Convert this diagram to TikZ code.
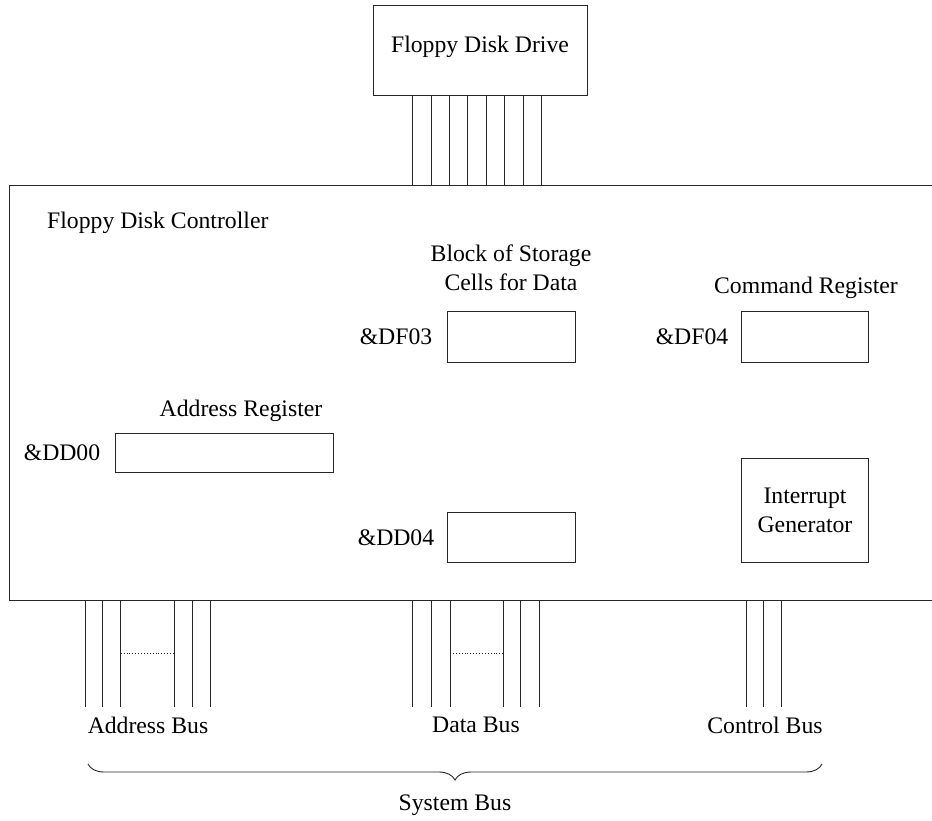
\documentclass[tikz,border=0pt]{standalone}
\usepackage{fontspec}
\setmainfont{Liberation Serif}
\usetikzlibrary{decorations.pathreplacing}
\tikzset{
  ln/.style={draw=black!85, line width=0.9pt},
  box/.style={ln, rectangle, inner sep=0pt},
  lbl/.style={font=\fontsize{23.7}{29}\selectfont, inner sep=0pt, align=center},
}
\begin{document}
\begin{tikzpicture}[x=1pt,y=-1pt]
\useasboundingbox (0,0) rectangle (932,820);
% controller (right side runs off the page)
\node[box, minimum width=991pt, minimum height=415pt, anchor=north west] (ctrl) at (9,185) {};
% drive
\node[box, minimum width=214pt, minimum height=90pt, anchor=north west] (drive) at (373,5) {};
\node[lbl] (drivet) at (480,47) {Floppy Disk Drive};
\foreach \x in {412.7,431,449,467.7,486.3,504.3,523,541.3}
  \draw[ln] (\x,0 |- drive.south) -- (\x,0 |- ctrl.north);
\node[lbl, anchor=west] (ctrlt) at (47,223) {Floppy Disk Controller};
% registers
\node[box, minimum width=128pt, minimum height=51pt, anchor=north west] (store) at (447,311) {};
\node[lbl] (storet) at (511,268) {Block of Storage\\Cells for Data};
\node[lbl] (df03) at (396,337) {\&DF03};
\node[box, minimum width=127pt, minimum height=51pt, anchor=north west] (cmd) at (741,311) {};
\node[lbl] (cmdt) at (806,288) {Command Register};
\node[lbl] (df04) at (692,337) {\&DF04};
\node[box, minimum width=218pt, minimum height=39pt, anchor=north west] (addr) at (115,433) {};
\node[lbl] (addrt) at (241,411) {Address Register};
\node[lbl] (dd00) at (62,453) {\&DD00};
\node[box, minimum width=128pt, minimum height=50pt, anchor=north west] (dd04b) at (447,512) {};
\node[lbl] (dd04) at (396,538) {\&DD04};
\node[box, minimum width=127pt, minimum height=104pt, anchor=north west] (intr) at (741,458) {};
\node[lbl] (intrt) at (805,510) {Interrupt\\Generator};
% buses
\foreach \x in {85,102.7,120.7,174,192.3,210.7}
  \draw[ln] (\x,0 |- ctrl.south) -- (\x,707);
\coordinate (ad1) at (120.7,653);
\coordinate (ad2) at (174,653);
\draw[ln, dotted, line width=0.7pt] (ad1) -- (ad2);
\foreach \x in {412.7,431,450,503.3,520.7,539}
  \draw[ln] (\x,0 |- ctrl.south) -- (\x,707);
\coordinate (db1) at (450,653);
\coordinate (db2) at (503.3,653);
\draw[ln, dotted, line width=0.7pt] (db1) -- (db2);
\foreach \x in {746,763.3,781.7}
  \draw[ln] (\x,0 |- ctrl.south) -- (\x,707);
\node[lbl] (abus) at (148,725) {Address Bus};
\node[lbl] (dbus) at (476,725) {Data Bus};
\node[lbl] (cbus) at (765,725) {Control Bus};
% system bus brace
\coordinate (brl) at (88,764);
\coordinate (brr) at (822,764);
\draw[ln, decorate, decoration={brace, mirror, amplitude=16pt, raise=0pt}] (brl) -- (brr);
\node[lbl] (sbus) at (455,805) {System Bus};
\end{tikzpicture}
\end{document}
